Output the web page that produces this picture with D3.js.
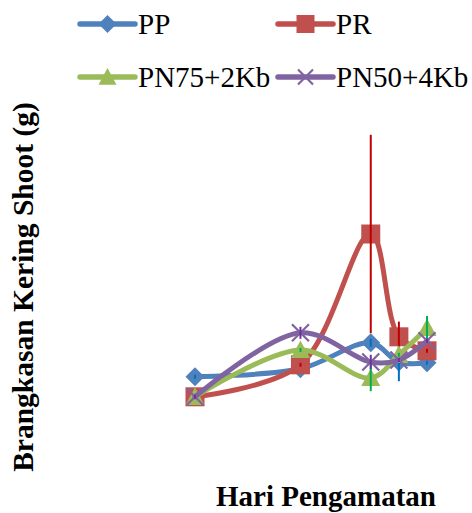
<!DOCTYPE html>
<html>
<head>
<meta charset="utf-8">
<script src="https://cdn.jsdelivr.net/npm/d3@7"></script>
<style>
  html, body { margin: 0; padding: 0; background: #fff; }
  svg { display: block; }
</style>
</head>
<body>
<svg id="chart" width="472" height="513"></svg>
<script>
// ---- data ----
const days = [15, 30, 40, 44, 48];
const seriesNames = ["PP", "PR", "PN75+2Kb", "PN50+4Kb"];
const ppValues   = [1.83, 2.03, 2.68, 2.20, 2.18];
const prValues   = [1.33, 2.13, 5.40, 2.83, 2.48];
const pn75Values = [1.33, 2.50, 1.80, 2.38, 3.05];
const pn50Values = [1.33, 2.93, 2.20, 2.25, 2.73];
const ppErr   = [0.05, 0.05, 0.10, 0.48, 0.05];
const prErr   = [0.05, 0.05, 2.48, 0.38, 0.05];
const pn75Err = [0.05, 0.05, 0.33, 0.05, 0.30];
const pn50Err = [0.05, 0.15, 0.18, 0.05, 0.05];
const xTitle = "Hari Pengamatan";
const yTitle = "Brangkasan Kering Shoot (g)";

// ---- styles ----
const colors    = ["#4f81bd", "#c0504d", "#9bbb59", "#8064a2"];
const errColors = ["#0070c0", "#c00000", "#00b050", "#7030a0"];
const markerTypes = ["diamond", "square", "triangle", "x"];
const values = [ppValues, prValues, pn75Values, pn50Values];
const errs = [ppErr, prErr, pn75Err, pn50Err];

const svg = d3.select("#chart");
const x = d3.scaleLinear().domain([15, 48]).range([195, 427]);
const y = d3.scaleLinear().domain([0, 8]).range([450, 130]);

function drawMarker(g, type, cx, cy, color, s) {
  const h = s / 2;
  if (type === "diamond") {
    g.append("path")
      .attr("d", `M${cx},${cy - h}L${cx + h},${cy}L${cx},${cy + h}L${cx - h},${cy}Z`)
      .attr("fill", color);
  } else if (type === "square") {
    g.append("rect").attr("x", cx - h).attr("y", cy - h).attr("width", s).attr("height", s)
      .attr("fill", color);
  } else if (type === "triangle") {
    g.append("path")
      .attr("d", `M${cx},${cy - h}L${cx + h},${cy + h * 0.85}L${cx - h},${cy + h * 0.85}Z`)
      .attr("fill", color);
  } else if (type === "x") {
    g.append("path")
      .attr("d", `M${cx - h},${cy - h}L${cx + h},${cy + h}M${cx + h},${cy - h}L${cx - h},${cy + h}`)
      .attr("stroke", color).attr("stroke-width", 2.2).attr("fill", "none");
  }
}

const line = d3.line()
  .x((d, i) => x(days[i]))
  .y(d => y(d))
  .curve(d3.curveCatmullRom.alpha(0.5));

values.forEach((vals, si) => {
  const g = svg.append("g");
  g.append("path")
    .datum(vals)
    .attr("d", line)
    .attr("fill", "none")
    .attr("stroke", colors[si])
    .attr("stroke-width", 5)
    .attr("stroke-linecap", "round");
  vals.forEach((v, i) => {
    drawMarker(g, markerTypes[si], x(days[i]), y(v), colors[si], markerTypes[si] === "x" ? 17 : 19);
  });
  vals.forEach((v, i) => {
    g.append("line")
      .attr("x1", x(days[i])).attr("x2", x(days[i]))
      .attr("y1", y(v - errs[si][i])).attr("y2", y(v + errs[si][i]))
      .attr("stroke", errColors[si]).attr("stroke-width", 2);
  });
});

// ---- legend ----
const legendPos = [
  { lx: 80, tx: 138, y: 24 },
  { lx: 278, tx: 336, y: 24 },
  { lx: 80, tx: 138, y: 77 },
  { lx: 278, tx: 336, y: 77 }
];
seriesNames.forEach((name, si) => {
  const p = legendPos[si];
  const g = svg.append("g");
  g.append("line")
    .attr("x1", p.lx).attr("x2", p.lx + 55)
    .attr("y1", p.y).attr("y2", p.y)
    .attr("stroke", colors[si]).attr("stroke-width", 5.5).attr("stroke-linecap", "round");
  drawMarker(g, markerTypes[si], p.lx + 27.5, p.y, colors[si], markerTypes[si] === "x" ? 15 : 18);
  g.append("text")
    .attr("x", p.tx).attr("y", p.y + 10)
    .attr("font-family", "'Liberation Serif', 'Times New Roman', serif")
    .attr("font-size", 29)
    .attr("fill", "#000")
    .text(name);
});

// ---- axis titles ----
svg.append("text")
  .attr("x", 326).attr("y", 506)
  .attr("text-anchor", "middle")
  .attr("font-family", "'Liberation Serif', 'Times New Roman', serif")
  .attr("font-weight", "bold")
  .attr("font-size", 29)
  .text(xTitle);

svg.append("text")
  .attr("transform", "translate(33,287) rotate(-90)")
  .attr("text-anchor", "middle")
  .attr("font-family", "'Liberation Serif', 'Times New Roman', serif")
  .attr("font-weight", "bold")
  .attr("font-size", 29.5)
  .text(yTitle);
</script>
</body>
</html>
